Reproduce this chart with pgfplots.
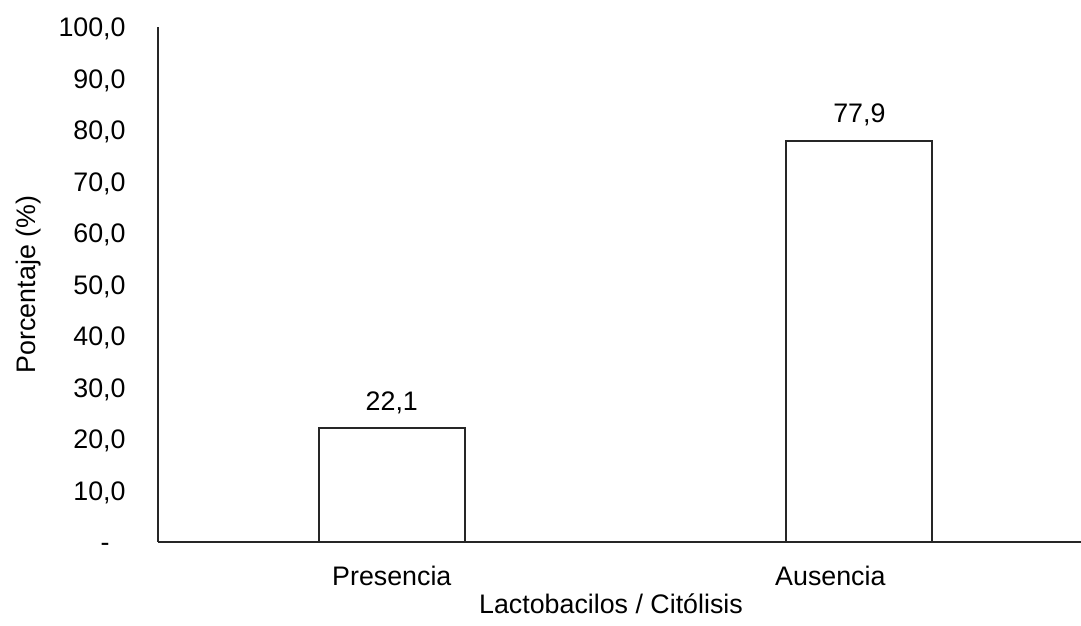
\documentclass[border=0pt]{standalone}
\usepackage{pgfplots}
\pgfplotsset{compat=1.18}
\usepackage{fontspec}
\setmainfont{Liberation Sans}

\newcommand{\chartfont}{\fontsize{13.4}{16}\selectfont}

\begin{document}
\begin{tikzpicture}[font=\chartfont]
\useasboundingbox (-79pt,-42pt) rectangle (461.5pt,271pt);
\begin{axis}[
  at={(0,0)}, anchor=south west,
  scale only axis,
  width=461.5pt, height=257.5pt,
  xmin=-0.5, xmax=1.474,
  ymin=0, ymax=100,
  axis x line=bottom, axis y line=left,
  axis line style={-, line width=1pt, black!85},
  major tick length=0pt,
  xtick={0,1},
  xticklabels={Presencia,{Ausencia\hspace*{29pt}}},
  ytick={0,10,...,100},
  yticklabels={{-\hspace*{8pt}},{10,0},{20,0},{30,0},{40,0},{50,0},{60,0},{70,0},{80,0},{90,0},{100,0}},
  xticklabel style={anchor=base, inner sep=0pt, yshift=-21.5pt, font=\chartfont},
  yticklabel style={anchor=base east, inner sep=0pt, yshift=-4.8pt, xshift=-16pt, font=\chartfont},
  xlabel={Lactobacilos / Citólisis},
  ylabel={Porcentaje (\%)},
  xlabel style={at={(axis description cs:0.4908,-0.1398)}, anchor=base, inner sep=0pt, font=\chartfont},
  ylabel style={at={(axis description cs:-0.1398,0.5)}, anchor=center, rotate=0, inner sep=0pt, font=\chartfont},
  nodes near coords,
  every node near coord/.append style={anchor=base, inner sep=0pt, yshift=9pt, font=\chartfont, black},
  /pgf/number format/use comma,
  /pgf/number format/fixed,
  /pgf/number format/fixed zerofill,
  /pgf/number format/precision=1,
  /pgf/number format/assume math mode=true,
]
\addplot[ybar, bar width=73pt, fill=white, draw=black!85, line width=1pt]
  coordinates {(0,22.1) (1,77.9)};
\end{axis}
\end{tikzpicture}
\end{document}
